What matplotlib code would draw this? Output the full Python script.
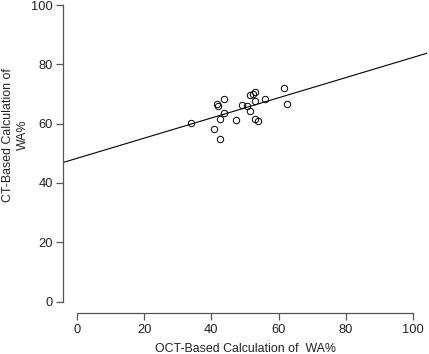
import numpy as np
import matplotlib
matplotlib.use('Agg')
import matplotlib.pyplot as plt

plt.rcParams['font.family'] = ['Liberation Sans', 'DejaVu Sans']

# OCT-based vs CT-based WA%
oct_wa = [34.0, 40.7, 42.5, 41.7, 41.9, 43.7, 43.7, 42.7, 47.4, 49.0, 50.6,
          51.6, 51.6, 52.4, 53.0, 53.0, 53.0, 53.8, 55.8, 61.7, 62.5]
ct_wa = [60.4, 58.3, 55.0, 66.7, 66.0, 68.3, 63.5, 61.7, 61.3, 66.2, 66.0,
         64.4, 69.6, 70.1, 70.7, 67.8, 61.5, 60.8, 68.3, 72.1, 66.7]

# regression line
intercept = 48.3
slope = 0.341

ticks = [0, 20, 40, 60, 80, 100]

fig = plt.figure(figsize=(4.29, 3.54), dpi=100)
# plot region extends a little above the top of the picture
ax = fig.add_axes([63.3 / 429, (354 - 313.4) / 354, (426.8 - 63.3) / 429, (313.4 + 6.7) / 354])

ax.plot(oct_wa, ct_wa, linestyle='none', marker='o', markersize=4.6,
        markerfacecolor='none', markeredgecolor='black', markeredgewidth=0.7)
ax.axline((0, intercept), slope=slope, color='black', linewidth=0.8)

ax.set_xlim(-4, 104)
ax.set_ylim(-4, 104)
ax.set_xticks(ticks)
ax.set_yticks(ticks)

for side in ['top', 'right']:
    ax.spines[side].set_visible(False)
for side in ['left', 'bottom']:
    ax.spines[side].set_color('#555555')
    ax.spines[side].set_linewidth(0.9)
    ax.spines[side].set_bounds(0, 100)

ax.tick_params(direction='out', length=5, width=0.9, color='#555555',
               labelsize=9.3, labelcolor='#222222', pad=2.5)

ax.set_xlabel('OCT-Based Calculation of  WA%', fontsize=8.9, color='#222222')
ax.xaxis.set_label_coords(0.5, -0.092)
ax.set_ylabel('CT-Based Calculation of\nWA%', fontsize=8.9, color='#222222',
              linespacing=1.3)
ax.yaxis.set_label_coords(-0.095, 0.557)

fig.savefig('out.png', dpi=100)
